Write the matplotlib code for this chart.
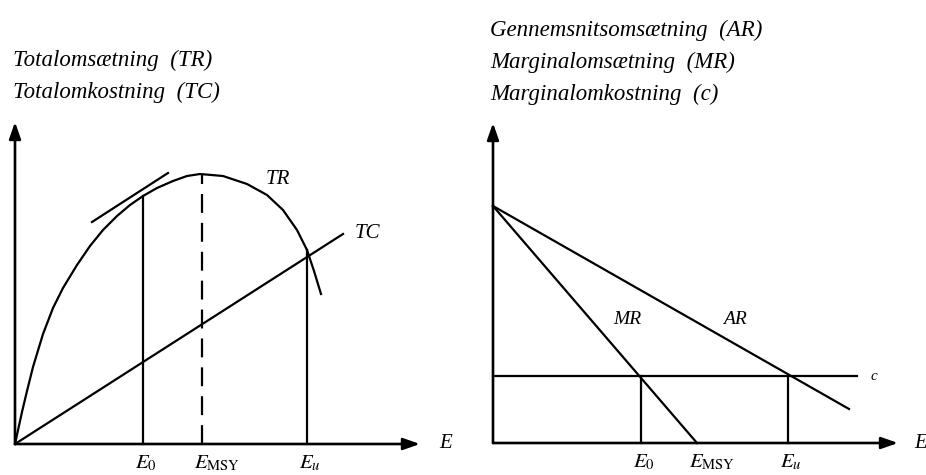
import matplotlib
matplotlib.use('Agg')
import matplotlib.pyplot as plt

plt.rcParams['mathtext.fontset'] = 'stix'
SERIF = 'Liberation Serif'

# left panel: total revenue / total cost (units)
tr_e = [0, 0.7, 1.2, 1.8, 2.8, 3.8, 4.8, 6.2, 7.5, 8.8, 10.2, 11.5, 12.8,
        14.2, 15.8, 17.2, 18.5, 20.8, 23.2, 25.2, 26.8, 28.2, 29.2, 29.9, 30.6]
tr_y = [0, 3.2, 5.3, 7.7, 11.0, 13.6, 15.6, 17.9, 19.8, 21.4, 22.8, 23.9, 24.8,
        25.6, 26.3, 26.8, 27.0, 26.8, 26.0, 24.9, 23.4, 21.4, 19.4, 17.3, 15.0]
tc_e = [0, 32.8]
tc_y = [0, 21.0]
tangent_e = [7.7, 15.3]
tangent_y = [22.2, 27.1]
left_marks = [12.8, 18.7, 29.2]          # E0, EMSY, Eu
left_tops = [24.8, 27.0, 19.4]

# right panel: average / marginal revenue and marginal cost
ar_e = [0, 35.6]
ar_y = [23.7, 3.4]
mr_e = [0, 20.4]
mr_y = [23.7, 0]
c_e = [0, 36.4]
c_y = [6.7, 6.7]
right_marks = [14.8, 20.4, 29.5]
right_tops = [6.7, 0, 6.7]

tick_labels = ['$E_0$', r'$E_{\mathrm{MSY}}$', '$E_u$']

fig = plt.figure(figsize=(9.26, 4.75), dpi=100)
axl = fig.add_axes([0, 0, 0.5, 1])
axr = fig.add_axes([0.5, 0, 0.5, 1])
axl.set_xlim(-1.5, 44.8)
axl.set_ylim(-3.1, 44.4)
axr.set_xlim(-3.0, 43.3)
axr.set_ylim(-3.2, 44.3)

for ax, xmax, ymax, gap in [(axl, 40.5, 32.2, 1.9), (axr, 40.5, 32.0, 1.6)]:
    ax.axis('off')
    arrow = dict(arrowstyle='-|>,head_length=1.0,head_width=0.35', lw=1.9,
                 color='black', shrinkA=0, shrinkB=0)
    ax.annotate('', xy=(xmax, 0), xytext=(0, 0), arrowprops=arrow)
    ax.annotate('', xy=(0, ymax), xytext=(0, 0), arrowprops=arrow)
    ax.text(xmax + gap, 0, 'E', family=SERIF, style='italic', fontsize=15,
            ha='left', va='center')

lw = 1.6
axl.plot(tr_e, tr_y, color='black', lw=lw)
axl.plot(tc_e, tc_y, color='black', lw=lw)
axl.plot(tangent_e, tangent_y, color='black', lw=lw)
for i, (e, top) in enumerate(zip(left_marks, left_tops)):
    ls = (0, (8.5, 4.5)) if i == 1 else '-'
    axl.plot([e, e], [0, top], color='black', lw=lw, ls=ls)
    axl.text(e - 0.8, -0.9, tick_labels[i], fontsize=15, ha='left', va='top')
axl.text(26.3, 26.5, 'TR', family=SERIF, style='italic', fontsize=15, ha='center', va='center')
axl.text(34.0, 21.1, 'TC', family=SERIF, style='italic', fontsize=15, ha='left', va='center')

axr.plot(ar_e, ar_y, color='black', lw=lw)
axr.plot(mr_e, mr_y, color='black', lw=lw)
axr.plot(c_e, c_y, color='black', lw=lw)
for i, (e, top) in enumerate(zip(right_marks, right_tops)):
    if top > 0:
        axr.plot([e, e], [0, top], color='black', lw=lw)
    axr.text(e - 0.8, -0.9, tick_labels[i], fontsize=15, ha='left', va='top')
axr.text(13.4, 12.3, 'MR', family=SERIF, style='italic', fontsize=14, ha='center', va='center')
axr.text(24.2, 12.3, 'AR', family=SERIF, style='italic', fontsize=14, ha='center', va='center')
axr.text(37.8, 6.7, 'c', family=SERIF, style='italic', fontsize=11, ha='left', va='center')

head = dict(family=SERIF, style='italic', fontsize=16.5, va='center', ha='left')
fig.text(13 / 926, 1 - 60 / 475, 'Totalomsætning  (TR)', **head)
fig.text(13 / 926, 1 - 92 / 475, 'Totalomkostning  (TC)', **head)
fig.text(490 / 926, 1 - 30 / 475, 'Gennemsnitsomsætning  (AR)', **head)
fig.text(490 / 926, 1 - 62 / 475, 'Marginalomsætning  (MR)', **head)
fig.text(490 / 926, 1 - 94 / 475, 'Marginalomkostning  (c)', **head)

fig.savefig('out.png', dpi=100)
